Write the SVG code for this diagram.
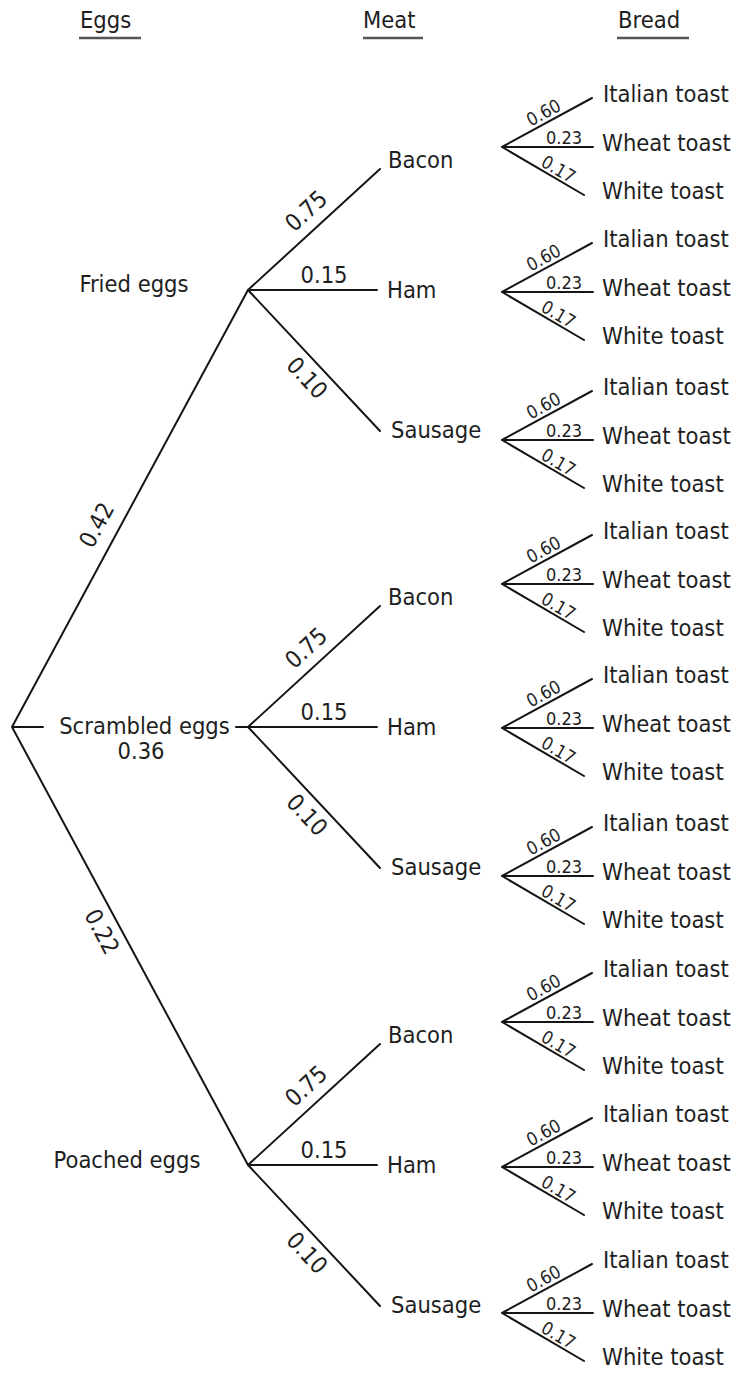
<svg xmlns="http://www.w3.org/2000/svg" width="743" height="1376" viewBox="0 0 743 1376">
<style>
text{font-family:"DejaVu Sans Condensed","DejaVu Sans","Liberation Sans",sans-serif;font-stretch:condensed;fill:#1e1e1e}
.t{font-size:23.5px}
.p{font-size:18px}
.ln{fill:none;stroke:#151515;stroke-width:2;stroke-linecap:round;stroke-linejoin:round}
.ul{stroke:#555;stroke-width:2.5}
.m{text-anchor:middle}
</style>
<defs>
<g id="meatEdges">
<path class="ln" d="M380,-121 L248,0 L377,0 M248,0 L380,141"/>
<text class="t m" transform="translate(319,-65) rotate(-42.5)" y="-11">0.75</text>
<text class="t m" x="324" y="-7">0.15</text>
<text class="t m" transform="translate(319.4,76.3) rotate(46.9)" y="25">0.10</text>
</g>
<g id="breadEdges">
<path class="ln" d="M592,-49 L502,0 L593,0 M502,0 L584,48"/>
<text class="p m" transform="translate(548.5,-25.4) rotate(-28.6)" y="-4">0.60</text>
<text class="p m" x="564" y="-3">0.23</text>
<text class="p m" transform="translate(553.8,30.3) rotate(30.3)" y="-3">0.17</text>
</g>
</defs>
<g id="headers">
<text class="t" x="80" y="28">Eggs</text>
<line class="ul" x1="79" y1="38" x2="141" y2="38"/>
<text class="t" x="363" y="28">Meat</text>
<line class="ul" x1="363" y1="38" x2="423" y2="38"/>
<text class="t" x="618" y="28">Bread</text>
<line class="ul" x1="617" y1="38" x2="689" y2="38"/>
</g>
<g id="connectors">
<path class="ln" d="M248,290 L12,727 L248,1165 M12,727 L43,727 M236,727 L248,727"/>
<text class="t m" transform="translate(115.6,535.2) rotate(-61.6)" y="-13.5">0.42</text>
<text class="t m" x="141" y="759">0.36</text>
<text class="t m" transform="translate(117.7,923.2) rotate(61.7)" y="26">0.22</text>
<use href="#meatEdges" transform="translate(0,290)"/>
<use href="#meatEdges" transform="translate(0,727)"/>
<use href="#meatEdges" transform="translate(0,1165)"/>
<use href="#breadEdges" transform="translate(0,147)"/>
<use href="#breadEdges" transform="translate(0,292)"/>
<use href="#breadEdges" transform="translate(0,440)"/>
<use href="#breadEdges" transform="translate(0,584)"/>
<use href="#breadEdges" transform="translate(0,728)"/>
<use href="#breadEdges" transform="translate(0,876)"/>
<use href="#breadEdges" transform="translate(0,1022)"/>
<use href="#breadEdges" transform="translate(0,1167)"/>
<use href="#breadEdges" transform="translate(0,1313)"/>
</g>
<g id="eggs-fried"><text class="t m" x="134" y="292">Fried eggs</text></g>
<g id="eggs-scrambled"><text class="t m" x="144.5" y="734">Scrambled eggs</text></g>
<g id="eggs-poached"><text class="t m" x="127" y="1168">Poached eggs</text></g>
<g id="meat-fried" transform="translate(0,290)">
<g id="fried-bacon"><text class="t" x="388" y="-122">Bacon</text></g>
<g id="fried-ham"><text class="t" x="387" y="8">Ham</text></g>
<g id="fried-sausage"><text class="t" x="391" y="148">Sausage</text></g>
</g>
<g id="meat-scrambled" transform="translate(0,727)">
<g id="scrambled-bacon"><text class="t" x="388" y="-122">Bacon</text></g>
<g id="scrambled-ham"><text class="t" x="387" y="8">Ham</text></g>
<g id="scrambled-sausage"><text class="t" x="391" y="148">Sausage</text></g>
</g>
<g id="meat-poached" transform="translate(0,1165)">
<g id="poached-bacon"><text class="t" x="388" y="-122">Bacon</text></g>
<g id="poached-ham"><text class="t" x="387" y="8">Ham</text></g>
<g id="poached-sausage"><text class="t" x="391" y="148">Sausage</text></g>
</g>
<g id="bread-1" transform="translate(0,147)"><text class="t" x="603" y="-45">Italian toast</text><text class="t" x="602" y="4">Wheat toast</text><text class="t" x="602" y="52">White toast</text></g>
<g id="bread-2" transform="translate(0,292)"><text class="t" x="603" y="-45">Italian toast</text><text class="t" x="602" y="4">Wheat toast</text><text class="t" x="602" y="52">White toast</text></g>
<g id="bread-3" transform="translate(0,440)"><text class="t" x="603" y="-45">Italian toast</text><text class="t" x="602" y="4">Wheat toast</text><text class="t" x="602" y="52">White toast</text></g>
<g id="bread-4" transform="translate(0,584)"><text class="t" x="603" y="-45">Italian toast</text><text class="t" x="602" y="4">Wheat toast</text><text class="t" x="602" y="52">White toast</text></g>
<g id="bread-5" transform="translate(0,728)"><text class="t" x="603" y="-45">Italian toast</text><text class="t" x="602" y="4">Wheat toast</text><text class="t" x="602" y="52">White toast</text></g>
<g id="bread-6" transform="translate(0,876)"><text class="t" x="603" y="-45">Italian toast</text><text class="t" x="602" y="4">Wheat toast</text><text class="t" x="602" y="52">White toast</text></g>
<g id="bread-7" transform="translate(0,1022)"><text class="t" x="603" y="-45">Italian toast</text><text class="t" x="602" y="4">Wheat toast</text><text class="t" x="602" y="52">White toast</text></g>
<g id="bread-8" transform="translate(0,1167)"><text class="t" x="603" y="-45">Italian toast</text><text class="t" x="602" y="4">Wheat toast</text><text class="t" x="602" y="52">White toast</text></g>
<g id="bread-9" transform="translate(0,1313)"><text class="t" x="603" y="-45">Italian toast</text><text class="t" x="602" y="4">Wheat toast</text><text class="t" x="602" y="52">White toast</text></g>
</svg>
